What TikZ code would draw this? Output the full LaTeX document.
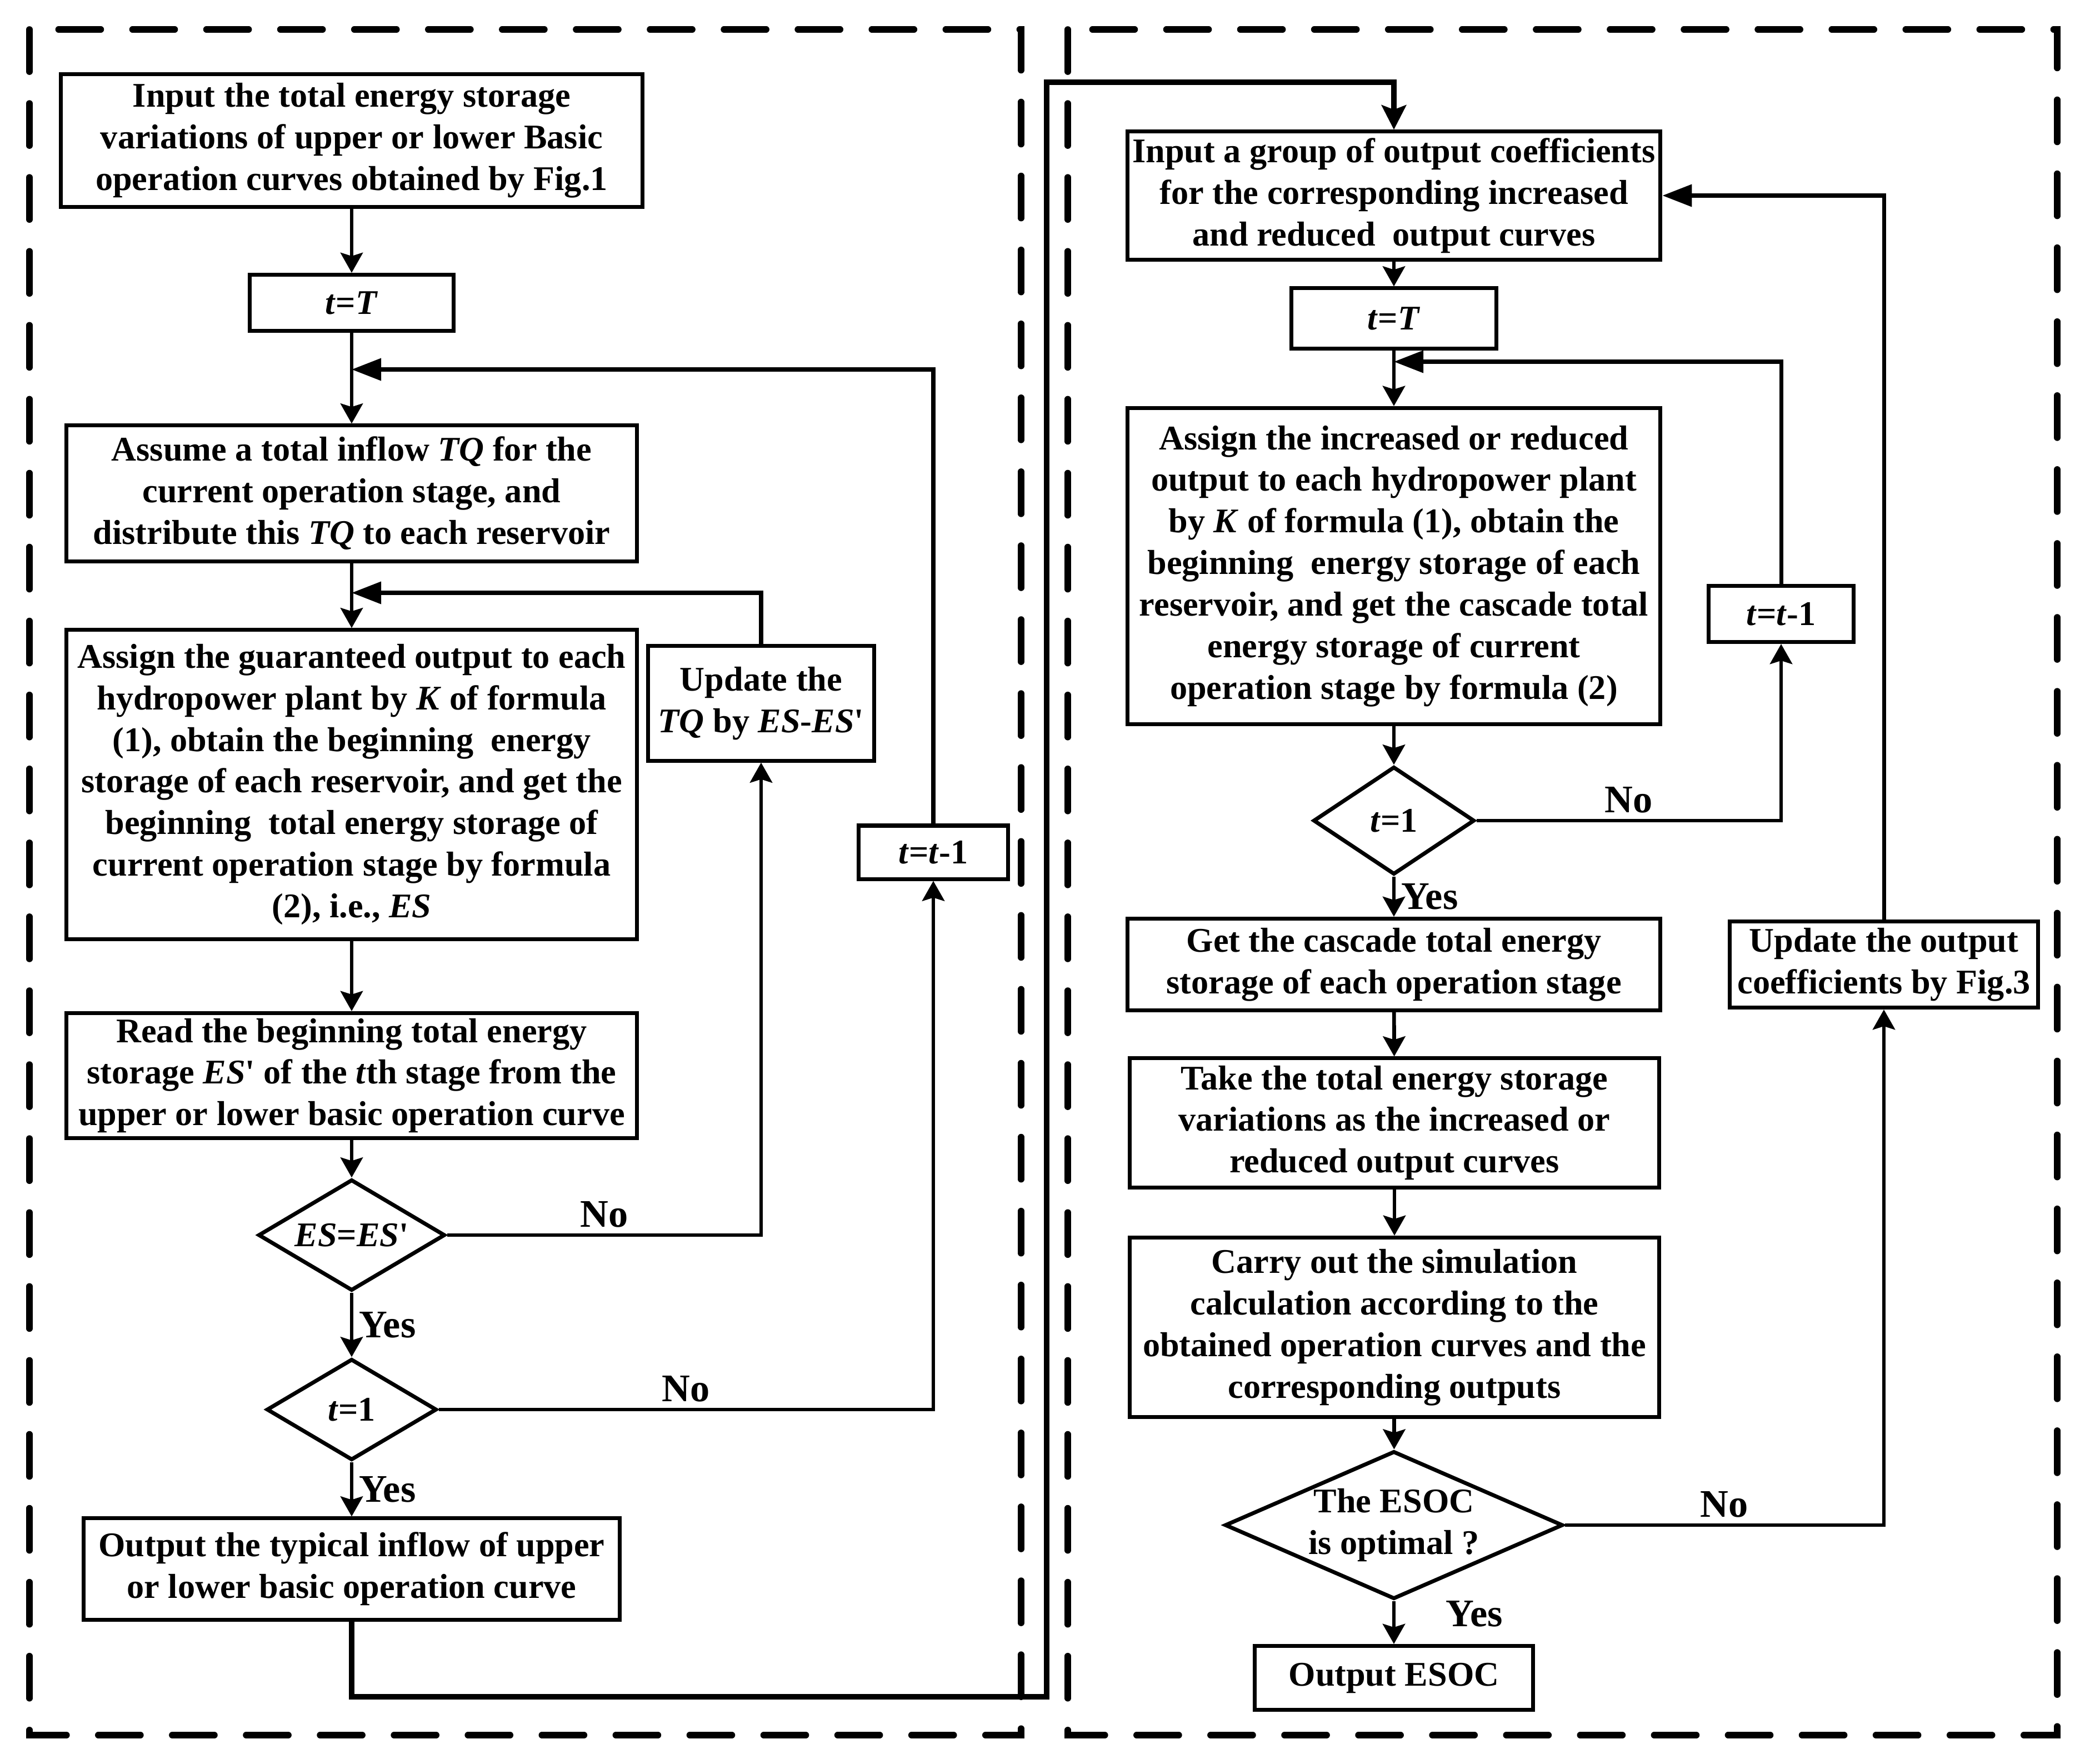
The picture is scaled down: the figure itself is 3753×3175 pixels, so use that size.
\documentclass[tikz,border=0pt]{standalone}
\usepackage{fontspec}
\setmainfont{Liberation Serif}
\usepackage{tikz}
\usetikzlibrary{arrows.meta,positioning,shapes.geometric}
\newcommand{\boxfont}{\fontsize{17.7}{21.3}\selectfont\bfseries}
\newcommand{\lblfont}{\fontsize{20}{24}\selectfont\bfseries}
\newcommand{\pr}{\textquotesingle}
\tikzset{
  box/.style={draw,line width=2pt,fill=white,inner sep=2pt,font=\boxfont,align=center},
  cond/.style={diamond,draw,line width=2pt,fill=white,inner sep=0pt,font=\boxfont,align=center},
  flow/.style={-{Stealth[length=3.6mm,width=4mm,inset=0.6mm]},line width=1.9pt},
  back/.style={-{Triangle[length=5.3mm,width=3.9mm]},line width=2pt},
  trans/.style={-{Stealth[length=4.4mm,width=4.4mm,inset=0.8mm]},line width=2.8pt},
  frame/.style={line width=3.3pt,dash pattern=on 7.6mm off 5.7mm,line cap=round},
  lbl/.style={font=\lblfont,inner sep=3pt},
}
\begin{document}
\begin{tikzpicture}[x=0.01cm,y=-0.01cm]
  \useasboundingbox (0,0) rectangle (3753,3175);
  \draw[frame] (53,53) rectangle (1838,3123);
  \draw[frame] (1922,53) rectangle (3703,3123);

  % left part
  \node[box,minimum width=10.46cm,minimum height=2.39cm] (in1) at (633,253)
    {Input the total energy storage\\ variations of upper or lower Basic\\ operation curves obtained by Fig.1};
  \node[box,minimum width=3.66cm,minimum height=1.01cm] (tT1) at (633,545) {\textit{t}=\textit{T}};
  \node[box,minimum width=10.26cm,minimum height=2.44cm] (as1) at (633,888)
    {Assume a total inflow \textit{TQ} for the\\ current operation stage, and\\ distribute this \textit{TQ} to each reservoir};
  \node[box,minimum width=10.26cm,minimum height=5.56cm] (gu1) at (633,1412)
    {Assign the guaranteed output to each\\ hydropower plant by \textit{K} of formula\\
     (1), obtain the beginning\ \ energy\\ storage of each reservoir, and get the\\
     beginning\ \ total energy storage of\\ current operation stage by formula\\ (2), i.e., \textit{ES}};
  \node[box,minimum width=4.07cm,minimum height=2.06cm] (upd1) at (1370,1266)
    {Update the\\ \textit{TQ} by \textit{ES}-\textit{ES}\pr};
  \node[box,minimum width=2.68cm,minimum height=0.96cm] (tm1) at (1680,1534) {\textit{t}=\textit{t}-1};
  \node[box,minimum width=10.26cm,minimum height=2.25cm] (rd1) at (633,1936)
    {Read the beginning total energy\\ storage \textit{ES}\pr{} of the \textit{t}th stage from the\\ upper or lower basic operation curve};
  \node[cond,aspect=1.68,minimum width=3.36cm,minimum height=2.0cm] (d1) at (633,2223) {\textit{ES}=\textit{ES}\pr};
  \node[cond,aspect=1.68,minimum width=3.06cm,minimum height=1.82cm] (d2) at (633,2537) {\textit{t}=1};
  \node[box,minimum width=9.64cm,minimum height=1.82cm] (out1) at (633,2824)
    {Output the typical inflow of upper\\ or lower basic operation curve};

  \coordinate (m1) at (633,665);
  \coordinate (m2) at (633,1067);
  \draw[flow] (in1) -- (tT1);
  \draw[flow] (tT1) -- (as1);
  \draw[back] (tm1.north) |- (m1);
  \draw[flow] (as1) -- (gu1);
  \draw[back] (upd1.north) |- (m2);
  \draw[flow] (gu1) -- (rd1);
  \draw[flow] (rd1) -- (d1);
  \draw[flow] (d1.east) -| node[lbl,pos=0.25,above] {No} (upd1.south);
  \draw[flow] (d1) -- node[lbl,right] {Yes} (d2);
  \draw[flow] (d2.east) -| node[lbl,pos=0.25,above] {No} (tm1.south);
  \draw[flow] (d2) -- node[lbl,right] {Yes} (out1);

  % right part
  \node[box,minimum width=9.59cm,minimum height=2.30cm] (in2) at (2509,352)
    {Input a group of output coefficients\\ for the corresponding increased\\ and reduced\ \ output curves};
  \node[box,minimum width=3.69cm,minimum height=1.08cm] (tT2) at (2509,573) {\textit{t}=\textit{T}};
  \node[box,minimum width=9.59cm,minimum height=5.69cm] (as2) at (2509,1019)
    {Assign the increased or reduced\\ output to each hydropower plant\\ by \textit{K} of formula (1), obtain the\\
     beginning\ \ energy storage of each\\ reservoir, and get the cascade total\\ energy storage of current\\
     operation stage by formula (2)};
  \node[box,minimum width=2.60cm,minimum height=1.01cm] (tm2) at (3206,1105) {\textit{t}=\textit{t}-1};
  \node[cond,aspect=1.5,minimum width=2.90cm,minimum height=1.94cm] (d3) at (2509,1477) {\textit{t}=1};
  \node[box,minimum width=9.59cm,minimum height=1.65cm] (gc2) at (2509,1736)
    {Get the cascade total energy\\ storage of each operation stage};
  \node[box,minimum width=5.55cm,minimum height=1.55cm] (up2) at (3391,1736)
    {Update the output\\ coefficients by Fig.3};
  \node[box,minimum width=9.53cm,minimum height=2.32cm] (tk2) at (2510,2021)
    {Take the total energy storage\\ variations as the increased or\\ reduced output curves};
  \node[box,minimum width=9.53cm,minimum height=3.23cm] (ca2) at (2510,2389)
    {Carry out the simulation\\ calculation according to the\\ obtained operation curves and the\\ corresponding outputs};
  \node[cond,aspect=2.29,minimum width=6.08cm,minimum height=2.66cm] (d4) at (2509,2745) {The ESOC\\ is optimal ?};
  \node[box,minimum width=5.01cm,minimum height=1.15cm] (out2) at (2509,3020) {Output ESOC};

  \coordinate (m3) at (2509,651);
  \draw[flow] (in2) -- (tT2);
  \draw[flow] (tT2) -- (as2);
  \draw[back] (tm2.north) |- (m3);
  \draw[flow] (as2) -- (d3);
  \draw[flow] (d3.east) -| node[lbl,pos=0.25,above] {No} (tm2.south);
  \draw[flow] (d3) -- node[lbl,right] {Yes} (gc2);
  \draw[flow] (gc2) -- (tk2);
  \draw[flow] (tk2) -- (ca2);
  \draw[flow] (ca2) -- (d4);
  \draw[flow] (d4.east) -| node[lbl,pos=0.25,above] {No} (up2.south);
  \draw[flow] (d4) -- node[lbl,right,xshift=8mm,yshift=1.5mm] {Yes} (out2);
  \draw[back] (up2.north) |- (in2.east);

  % link between the two parts
  \coordinate (tr1) at (1884,3054);
  \coordinate (tr2) at (1884,148);
  \draw[trans] (out1.south) |- (tr1) -- (tr2) -| (in2.north);
\end{tikzpicture}
\end{document}
